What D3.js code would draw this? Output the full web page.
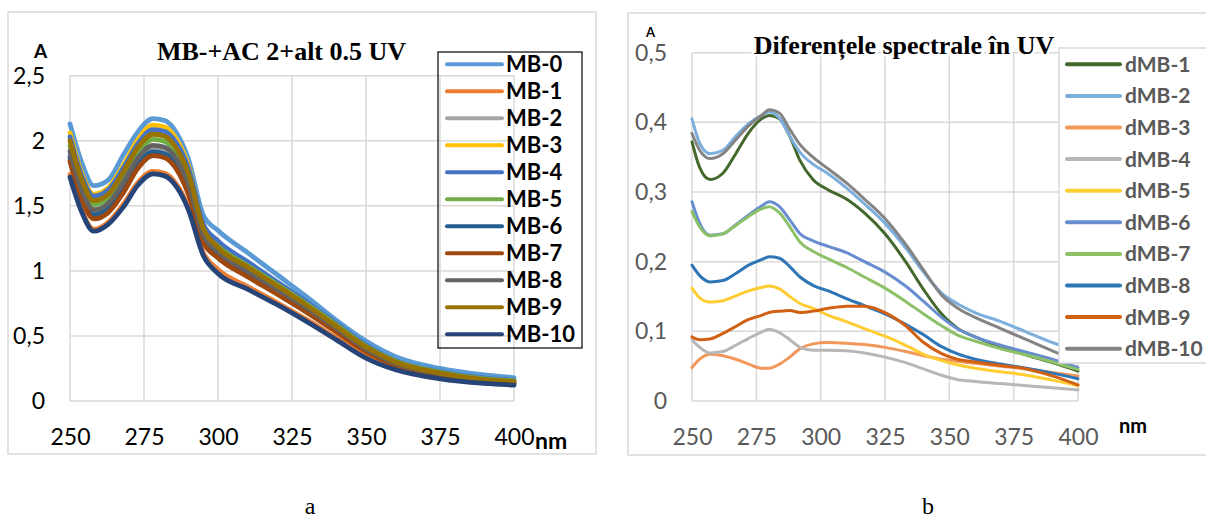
<!DOCTYPE html>
<html>
<head>
<meta charset="utf-8">
<script src="https://cdn.jsdelivr.net/npm/d3@7"></script>
<style>
  body { margin: 0; background: #fff; }
  svg { display: block; }
</style>
</head>
<body>
<svg id="fig" width="1206" height="521"></svg>
<script>
// ---------- Panel a: absorption spectra MB-0 … MB-10 ----------
const wavelengthsA = [250, 254, 258, 263, 268, 273, 278, 282, 286, 290, 295, 300, 310, 320, 330, 340, 350, 360, 375, 390, 400];
const namesA = ["MB-0", "MB-1", "MB-2", "MB-3", "MB-4", "MB-5", "MB-6", "MB-7", "MB-8", "MB-9", "MB-10"];
const colorsA = ["#5B9BD5", "#ED7D31", "#A5A5A5", "#FFC000", "#4472C4", "#70AD47", "#255E91", "#9E480E", "#636363", "#997300", "#264478"];

const mb0  = [2.13, 1.83, 1.655, 1.70, 1.89, 2.07, 2.17, 2.155, 2.06, 1.86, 1.43, 1.31, 1.14, 0.97, 0.80, 0.62, 0.46, 0.34, 0.25, 0.20, 0.18];
const mb1  = [1.74, 1.46, 1.32, 1.375, 1.51, 1.68, 1.765, 1.75, 1.665, 1.49, 1.14, 1.01, 0.88, 0.755, 0.625, 0.485, 0.345, 0.25, 0.178, 0.14, 0.128];
const mb2  = [1.89, 1.60, 1.45, 1.50, 1.65, 1.84, 1.935, 1.92, 1.83, 1.64, 1.25, 1.12, 0.97, 0.83, 0.69, 0.54, 0.385, 0.28, 0.20, 0.155, 0.14];
const mb3  = [2.06, 1.75, 1.59, 1.64, 1.81, 2.01, 2.12, 2.105, 2.01, 1.81, 1.33, 1.18, 1.03, 0.89, 0.74, 0.58, 0.42, 0.30, 0.215, 0.165, 0.15];
const mb4  = [2.03, 1.73, 1.575, 1.625, 1.79, 1.98, 2.085, 2.07, 1.98, 1.79, 1.36, 1.23, 1.07, 0.915, 0.76, 0.595, 0.43, 0.31, 0.225, 0.175, 0.16];
const mb5  = [1.96, 1.67, 1.51, 1.56, 1.72, 1.91, 2.01, 1.995, 1.905, 1.71, 1.31, 1.19, 1.04, 0.895, 0.745, 0.585, 0.42, 0.305, 0.22, 0.17, 0.155];
const mb6  = [1.87, 1.58, 1.43, 1.48, 1.63, 1.82, 1.915, 1.90, 1.81, 1.62, 1.24, 1.12, 0.97, 0.835, 0.695, 0.545, 0.39, 0.285, 0.205, 0.155, 0.14];
const mb7  = [1.84, 1.55, 1.40, 1.45, 1.60, 1.79, 1.885, 1.87, 1.78, 1.59, 1.22, 1.10, 0.955, 0.82, 0.68, 0.53, 0.38, 0.275, 0.195, 0.15, 0.135];
const mb8  = [1.92, 1.62, 1.47, 1.52, 1.68, 1.87, 1.965, 1.95, 1.86, 1.67, 1.28, 1.15, 1.00, 0.86, 0.715, 0.56, 0.40, 0.29, 0.21, 0.16, 0.145];
const mb9  = [2.00, 1.70, 1.54, 1.59, 1.76, 1.95, 2.05, 2.035, 1.94, 1.75, 1.33, 1.18, 1.03, 0.885, 0.735, 0.575, 0.415, 0.30, 0.215, 0.165, 0.15];
const mb10 = [1.72, 1.45, 1.305, 1.36, 1.49, 1.66, 1.745, 1.73, 1.645, 1.47, 1.12, 0.98, 0.86, 0.74, 0.61, 0.47, 0.33, 0.24, 0.17, 0.135, 0.122];
const valuesA = [mb0, mb1, mb2, mb3, mb4, mb5, mb6, mb7, mb8, mb9, mb10];

const xTicksA = [250, 275, 300, 325, 350, 375, 400];
const yTicksA = [0, 0.5, 1, 1.5, 2, 2.5];
const yTickLabelsA = ["0", "0,5", "1", "1,5", "2", "2,5"];

// ---------- Panel b: difference spectra dMB-1 … dMB-10 ----------
const wavelengthsB = [250, 253, 257, 262, 267, 272, 277, 280, 284, 288, 292, 297, 303, 310, 317, 325, 333, 340, 347, 353, 360, 370, 380, 390, 400];
const namesB = ["dMB-1", "dMB-2", "dMB-3", "dMB-4", "dMB-5", "dMB-6", "dMB-7", "dMB-8", "dMB-9", "dMB-10"];
const colorsB = ["#43682B", "#7CAFDD", "#F1975A", "#B7B7B7", "#FFCD33", "#698ED0", "#8CC168", "#2E75B6", "#D26012", "#848484"];

const dmb1  = [0.372, 0.335, 0.318, 0.327, 0.355, 0.385, 0.405, 0.410, 0.405, 0.380, 0.345, 0.318, 0.303, 0.290, 0.270, 0.240, 0.200, 0.160, 0.125, 0.105, 0.092, 0.078, 0.066, 0.055, 0.043];
const dmb2  = [0.405, 0.370, 0.355, 0.360, 0.380, 0.398, 0.410, 0.415, 0.406, 0.380, 0.357, 0.340, 0.326, 0.306, 0.283, 0.255, 0.220, 0.185, 0.155, 0.140, 0.127, 0.114, 0.099, 0.084, 0.072];
const dmb3  = [0.048, 0.060, 0.067, 0.065, 0.060, 0.053, 0.047, 0.047, 0.053, 0.063, 0.075, 0.082, 0.084, 0.083, 0.081, 0.077, 0.071, 0.065, 0.060, 0.057, 0.054, 0.050, 0.046, 0.041, 0.036];
const dmb4  = [0.088, 0.077, 0.069, 0.071, 0.080, 0.090, 0.099, 0.103, 0.098, 0.088, 0.077, 0.073, 0.073, 0.072, 0.069, 0.063, 0.055, 0.046, 0.037, 0.031, 0.028, 0.025, 0.022, 0.019, 0.016];
const dmb5  = [0.162, 0.148, 0.142, 0.144, 0.151, 0.158, 0.163, 0.165, 0.161, 0.150, 0.140, 0.133, 0.123, 0.114, 0.104, 0.093, 0.080, 0.067, 0.058, 0.052, 0.047, 0.042, 0.037, 0.030, 0.022];
const dmb6  = [0.286, 0.255, 0.238, 0.240, 0.253, 0.267, 0.280, 0.286, 0.279, 0.260, 0.240, 0.230, 0.222, 0.213, 0.200, 0.185, 0.165, 0.143, 0.120, 0.104, 0.092, 0.080, 0.070, 0.060, 0.048];
const dmb7  = [0.272, 0.250, 0.237, 0.240, 0.252, 0.265, 0.276, 0.279, 0.270, 0.250, 0.228, 0.215, 0.204, 0.192, 0.178, 0.162, 0.143, 0.125, 0.108, 0.095, 0.086, 0.075, 0.066, 0.056, 0.045];
const dmb8  = [0.195, 0.180, 0.171, 0.173, 0.183, 0.195, 0.203, 0.207, 0.205, 0.193, 0.178, 0.166, 0.158, 0.147, 0.137, 0.125, 0.110, 0.095, 0.078, 0.068, 0.060, 0.053, 0.047, 0.040, 0.032];
const dmb9  = [0.092, 0.088, 0.089, 0.097, 0.107, 0.117, 0.123, 0.127, 0.129, 0.130, 0.127, 0.129, 0.133, 0.136, 0.136, 0.127, 0.108, 0.084, 0.068, 0.060, 0.056, 0.051, 0.046, 0.036, 0.023];
const dmb10 = [0.384, 0.360, 0.348, 0.355, 0.375, 0.395, 0.410, 0.418, 0.413, 0.390, 0.368, 0.350, 0.333, 0.313, 0.290, 0.262, 0.225, 0.188, 0.152, 0.134, 0.120, 0.104, 0.088, 0.072, 0.058];
const valuesB = [dmb1, dmb2, dmb3, dmb4, dmb5, dmb6, dmb7, dmb8, dmb9, dmb10];

const xTicksB = [250, 275, 300, 325, 350, 375, 400];
const yTicksB = [0, 0.1, 0.2, 0.3, 0.4, 0.5];
const yTickLabelsB = ["0", "0,1", "0,2", "0,3", "0,4", "0,5"];

// ---------- drawing ----------
const svg = d3.select("#fig");
const GRID = "#d9d9d9";
const TICK_FONT = "Lato, 'Open Sans', sans-serif";
const SERIF = "'Liberation Serif', 'DejaVu Serif', serif";

function panel(opt) {
  const g = svg.append("g");
  const x = d3.scaleLinear().domain([250, 400]).range(opt.xRange);
  const y = d3.scaleLinear().domain(opt.yDomain).range(opt.yRange);

  // chart frame
  g.append("rect")
    .attr("x", opt.frame[0]).attr("y", opt.frame[1])
    .attr("width", opt.frame[2]).attr("height", opt.frame[3])
    .attr("fill", "none").attr("stroke", GRID).attr("stroke-width", 1.5);

  // gridlines
  g.append("g").selectAll("line.h").data(opt.yTicks).join("line")
    .attr("x1", x(250)).attr("x2", x(400))
    .attr("y1", d => y(d)).attr("y2", d => y(d))
    .attr("stroke", GRID).attr("stroke-width", 1.5);
  g.append("g").selectAll("line.v").data(opt.xTicks).join("line")
    .attr("x1", d => x(d)).attr("x2", d => x(d))
    .attr("y1", y(opt.yDomain[0])).attr("y2", y(opt.yDomain[1]))
    .attr("stroke", GRID).attr("stroke-width", 1.5);

  // axes (labels only; lines come from the grid)
  const yAxis = d3.axisLeft(y).tickValues(opt.yTicks)
    .tickFormat((d, i) => opt.yTickLabels[i]).tickSize(0).tickPadding(25);
  g.append("g").attr("transform", `translate(${x(250)},0)`).call(yAxis)
    .call(a => a.select(".domain").remove())
    .call(a => a.selectAll("text").attr("font-family", TICK_FONT)
      .attr("font-size", 23).attr("fill", opt.tickColor));

  const xAxis = d3.axisBottom(x).tickValues(opt.xTicks).tickFormat(d3.format("d")).tickSize(0);
  g.append("g").attr("transform", `translate(0,${y(0)})`).call(xAxis)
    .call(a => a.select(".domain").remove())
    .call(a => a.selectAll("text").attr("y", opt.xLabelY - y(0)).attr("dy", 0)
      .attr("font-family", TICK_FONT).attr("font-size", 23).attr("fill", opt.tickColor));

  // spectra
  const line = d3.line()
    .x((d, i) => x(opt.wavelengths[i]))
    .y(d => y(d))
    .curve(d3.curveMonotoneX);
  g.append("g").selectAll("path").data(opt.values).join("path")
    .attr("d", d => line(d))
    .attr("fill", "none")
    .attr("stroke", (d, i) => opt.colors[i])
    .attr("stroke-width", opt.lineWidth)
    .attr("stroke-linejoin", "round")
    .attr("stroke-linecap", "round");

  return { g, x, y };
}

// Panel a
const pa = panel({
  frame: [8, 12, 588, 442],
  xRange: [70, 514], yDomain: [0, 2.5], yRange: [401, 75.7],
  xTicks: xTicksA, yTicks: yTicksA, yTickLabels: yTickLabelsA,
  tickColor: "#000", xLabelY: 445,
  wavelengths: wavelengthsA, values: valuesA, colors: colorsA, lineWidth: 4.8
});

pa.g.append("text").attr("x", 281.5).attr("y", 60).attr("text-anchor", "middle")
  .attr("font-family", SERIF).attr("font-weight", "bold").attr("font-size", 26)
  .text("MB-+AC 2+alt 0.5 UV");
pa.g.append("text").attr("x", 40.5).attr("y", 58).attr("text-anchor", "middle")
  .attr("font-family", TICK_FONT).attr("font-weight", "bold").attr("font-size", 19)
  .text("A");
pa.g.append("text").attr("x", 535).attr("y", 449)
  .attr("font-family", TICK_FONT).attr("font-weight", "bold").attr("font-size", 23)
  .text("nm");

// legend a (transparent box)
const legA = pa.g.append("g");
legA.append("rect").attr("x", 438).attr("y", 52).attr("width", 144).attr("height", 296)
  .attr("fill", "none").attr("stroke", "#000").attr("stroke-width", 1.2);
const rowA = legA.selectAll("g.row").data(namesA).join("g")
  .attr("transform", (d, i) => `translate(0,${64.3 + i * 27})`);
rowA.append("line").attr("x1", 447).attr("x2", 502).attr("y1", 0).attr("y2", 0)
  .attr("stroke", (d, i) => colorsA[i]).attr("stroke-width", 4).attr("stroke-linecap", "round");
rowA.append("text").attr("x", 506).attr("y", 8)
  .attr("font-family", TICK_FONT).attr("font-weight", "bold").attr("font-size", 22)
  .attr("fill", "#000").text(d => d);

// Panel b
const pb = panel({
  frame: [628, 13, 640, 442],
  xRange: [692, 1078], yDomain: [0, 0.5], yRange: [401, 52.7],
  xTicks: xTicksB, yTicks: yTicksB, yTickLabels: yTickLabelsB,
  tickColor: "#595959", xLabelY: 445,
  wavelengths: wavelengthsB, values: valuesB, colors: colorsB, lineWidth: 3
});

pb.g.append("text").attr("x", 904).attr("y", 54).attr("text-anchor", "middle")
  .attr("font-family", SERIF).attr("font-weight", "bold").attr("font-size", 26)
  .attr("stroke", "#fff").attr("stroke-width", 5).attr("paint-order", "stroke")
  .text("Diferențele spectrale în UV");
pb.g.append("text").attr("x", 650.5).attr("y", 37).attr("text-anchor", "middle")
  .attr("font-family", TICK_FONT).attr("font-weight", "bold").attr("font-size", 13)
  .text("A");
pb.g.append("text").attr("x", 1119).attr("y", 433)
  .attr("font-family", TICK_FONT).attr("font-weight", "bold").attr("font-size", 20)
  .text("nm");

// legend b (white box)
const legB = pb.g.append("g");
legB.append("rect").attr("x", 1059).attr("y", 48).attr("width", 200).attr("height", 315)
  .attr("fill", "#fff").attr("stroke", GRID).attr("stroke-width", 1.5);
const rowB = legB.selectAll("g.row").data(namesB).join("g")
  .attr("transform", (d, i) => `translate(0,${64.3 + i * 31.6})`);
rowB.append("line").attr("x1", 1067).attr("x2", 1120).attr("y1", 0).attr("y2", 0)
  .attr("stroke", (d, i) => colorsB[i]).attr("stroke-width", 4).attr("stroke-linecap", "round");
rowB.append("text").attr("x", 1125).attr("y", 7.5)
  .attr("font-family", TICK_FONT).attr("font-weight", "bold").attr("font-size", 21)
  .attr("fill", "#595959").text(d => d);

// panel captions
svg.append("text").attr("x", 310).attr("y", 514).attr("text-anchor", "middle")
  .attr("font-family", SERIF).attr("font-size", 24).text("a");
svg.append("text").attr("x", 928).attr("y", 514).attr("text-anchor", "middle")
  .attr("font-family", SERIF).attr("font-size", 24).text("b");
</script>
</body>
</html>
